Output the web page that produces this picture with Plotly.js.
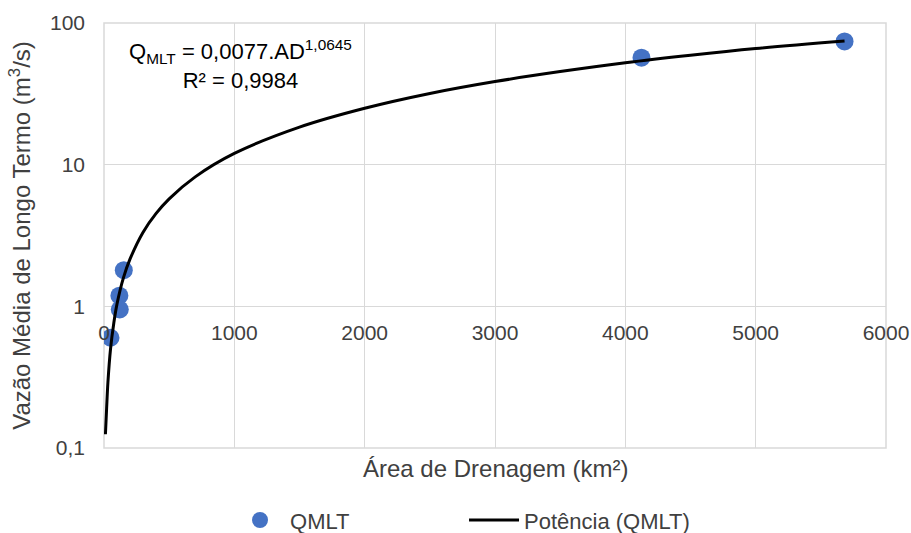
<!DOCTYPE html>
<html>
<head>
<meta charset="utf-8">
<script src="https://cdn.plot.ly/plotly-3.0.1.min.js"></script>
<style>html,body{margin:0;padding:0;background:#fff;}#chart{width:911px;height:533px;}</style>
</head>
<body>
<div id="chart"></div>
<script>
// Observed points (Área de Drenagem km², QMLT m³/s)
const areaKm2 = [50, 118, 121, 152, 4124, 5682];
const qmltValues = [0.60, 1.19, 0.95, 1.80, 56.9, 74.1];

// Power trendline
const trendArea = [11, 20, 30, 50, 75, 100, 150, 200, 300, 400, 500, 700, 1000, 1500, 2000, 2500, 3000, 3500, 4000, 4500, 5000, 5682];
const trendQ    = [0.125, 0.19, 0.29, 0.50, 0.76, 1.04, 1.60, 2.16, 3.34, 4.53, 5.74, 8.2, 12.0, 18.4, 25.0, 31.8, 38.6, 45.4, 52.4, 59.2, 66.0, 74.5];

// Tick labels
const xTickVals = [0, 1000, 2000, 3000, 4000, 5000, 6000];
const xTickText = ['0', '1000', '2000', '3000', '4000', '5000', '6000'];
const yTickVals = [0.1, 1, 10, 100];
const yTickText = ['0,1', '1', '10', '100'];

const textColor = '#404040';
const gridColor = '#d9d9d9';
const fontFam = 'Liberation Sans, Arial, sans-serif';

const traces = [
  {
    x: areaKm2, y: qmltValues, type: 'scatter', mode: 'markers', name: 'QMLT',
    marker: {color: '#4472C4', size: 18}
  },
  {
    x: trendArea, y: trendQ, type: 'scatter', mode: 'lines', name: 'Potência (QMLT)',
    line: {color: '#000000', width: 3, shape: 'spline'}
  }
];

const layout = {
  width: 911, height: 533,
  margin: {l: 104, r: 25, t: 23, b: 85},
  paper_bgcolor: '#ffffff', plot_bgcolor: '#ffffff',
  font: {family: fontFam, size: 21, color: textColor},
  showlegend: true,
  legend: {
    orientation: 'h', xref: 'container', yref: 'container',
    x: 0.2525, xanchor: 'left', y: 0.024, yanchor: 'middle',
    font: {size: 22, color: textColor}, entrywidth: 169, entrywidthmode: 'pixels',
    itemwidth: 50, bgcolor: 'rgba(0,0,0,0)'
  },
  xaxis: {
    type: 'linear', range: [0, 6000], tickvals: xTickVals, ticktext: xTickText,
    showgrid: true, gridcolor: gridColor, gridwidth: 1, zeroline: false, showline: false,
    anchor: 'free', position: 1/3, ticks: '', ticklabelstandoff: 12,
    tickfont: {size: 21, color: textColor}
  },
  yaxis: {
    type: 'log', range: [-1, 2], tickvals: yTickVals, ticktext: yTickText,
    showgrid: true, gridcolor: gridColor, gridwidth: 1, zeroline: false, showline: false,
    ticks: '', ticklabelstandoff: 18,
    tickfont: {size: 21, color: textColor},
    title: {text: 'Vazão Média de Longo Termo (m<sup>3</sup>/s)', font: {size: 24, color: textColor}, standoff: 12}
  },
  shapes: [
    {type: 'rect', xref: 'paper', yref: 'paper', x0: 0, x1: 1, y0: 0, y1: 1,
     line: {color: gridColor, width: 1.5}, layer: 'below'}
  ],
  annotations: [
    {text: 'Área de Drenagem (km²)', xref: 'paper', yref: 'paper', x: 0.5, y: -0.049,
     xanchor: 'center', yanchor: 'middle', showarrow: false, font: {size: 24, color: textColor}},
    {text: 'Q<sub>MLT</sub> = 0,0077.AD<sup>1,0645</sup><br>R² = 0,9984', xref: 'x', yref: 'paper',
     x: 1046, y: 0.903, xanchor: 'center', yanchor: 'middle', align: 'center', showarrow: false,
     font: {size: 22, color: '#000000'}}
  ]
};

Plotly.newPlot('chart', traces, layout, {displayModeBar: false, staticPlot: true});
</script>
</body>
</html>
